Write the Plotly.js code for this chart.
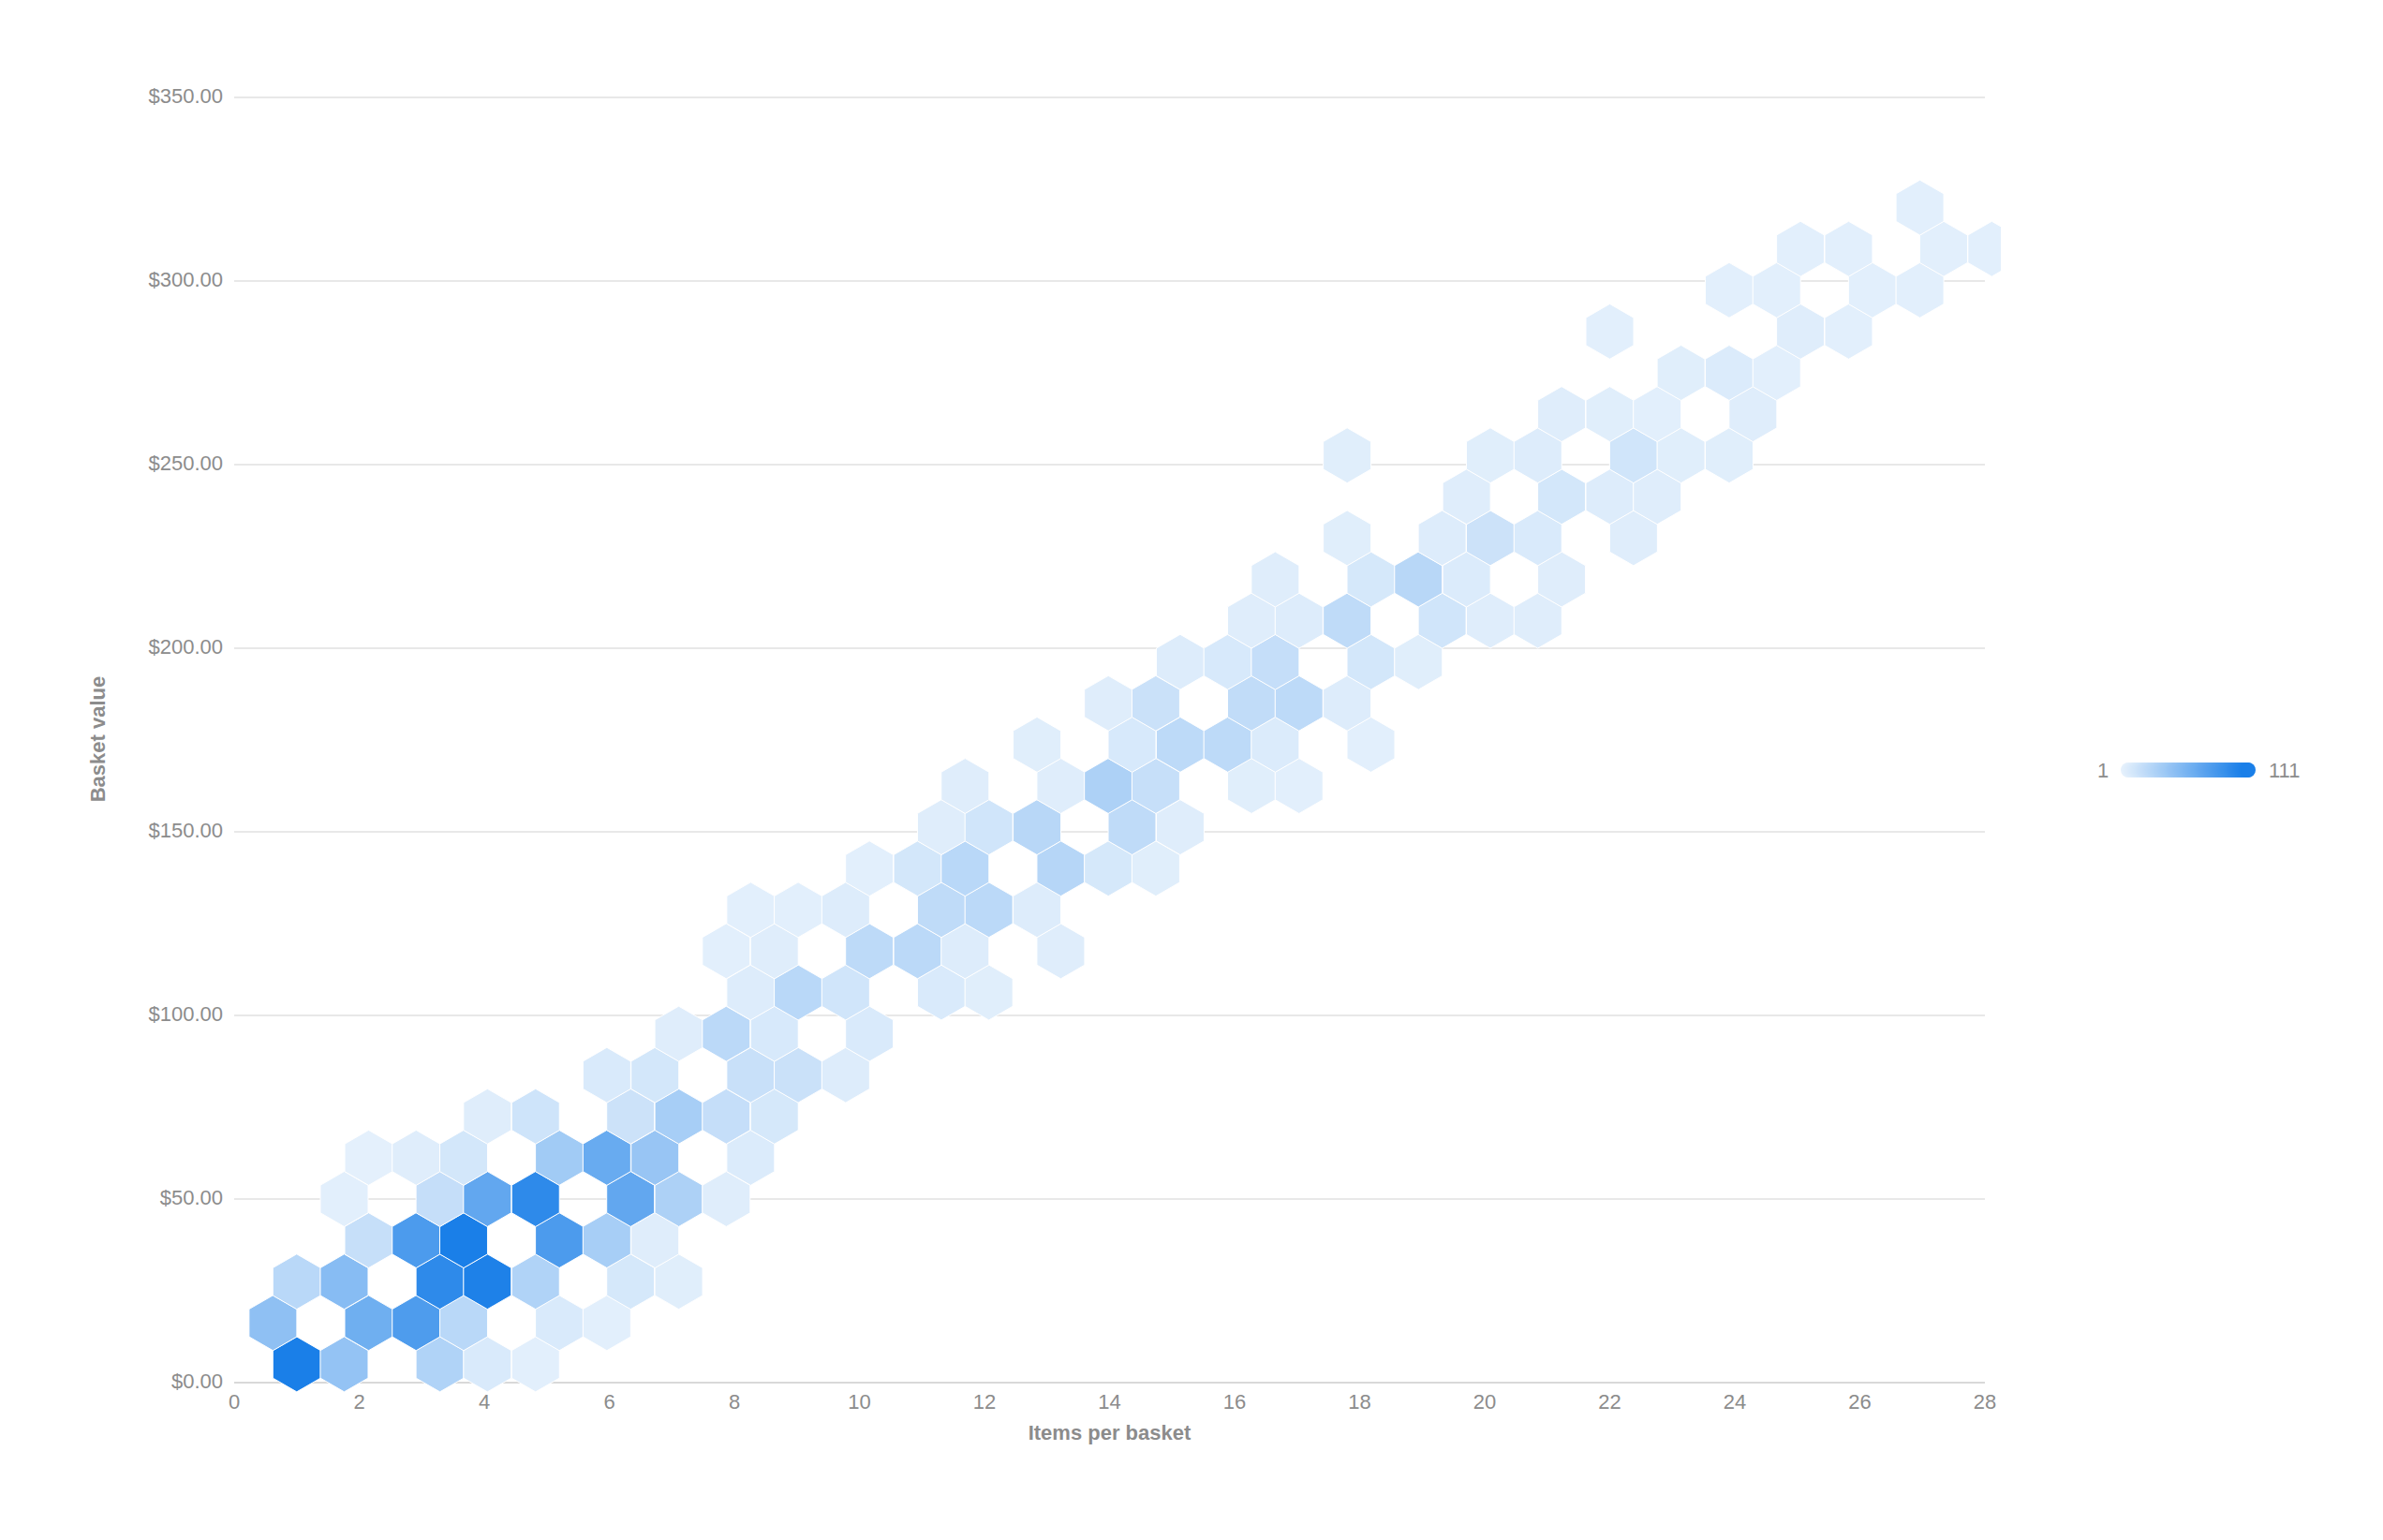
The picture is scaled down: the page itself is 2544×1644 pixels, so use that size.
<!DOCTYPE html>
<html><head><meta charset="utf-8">
<script src="https://cdn.plot.ly/plotly-3.0.1.min.js"></script>
<style>html,body{margin:0;padding:0;background:#fff}</style></head>
<body><div id="chart" style="width:2544px;height:1644px"></div>
<script>
const hexItems=[
1.00,1.76,3.29,4.05,4.82,
0.62,2.15,2.91,3.67,5.20,5.96,
1.00,1.76,3.29,4.05,4.82,6.34,7.11,
2.15,2.91,3.67,5.20,5.96,6.73,
1.76,3.29,4.05,4.82,6.34,7.11,7.87,
2.15,2.91,3.67,5.20,5.96,6.73,8.26,
4.05,4.82,6.34,7.11,7.87,8.64,
5.96,6.73,8.26,9.02,9.78,
7.11,7.87,8.64,10.16,
8.26,9.02,9.78,11.31,12.07,
7.87,8.64,10.16,10.93,11.69,13.22,
8.26,9.02,9.78,11.31,12.07,12.84,
10.16,10.93,11.69,13.22,13.98,14.74,
11.31,12.07,12.84,14.36,15.13,
11.69,13.22,13.98,14.74,16.27,17.03,
12.84,14.36,15.13,15.89,16.65,18.18,
13.98,14.74,16.27,17.03,17.80,
15.13,15.89,16.65,18.18,18.94,
16.27,17.03,17.80,19.32,20.09,20.85,
16.65,18.18,18.94,19.71,21.23,
17.80,19.32,20.09,20.85,22.38,
19.71,21.23,22.00,22.76,
17.80,20.09,20.85,22.38,23.14,23.91,
21.23,22.00,22.76,24.29,
23.14,23.91,24.67,
22.00,25.05,25.82,
23.91,24.67,26.20,26.96,
25.05,25.82,27.34,28.11,
26.96];
const hexValue=[
5,5,5,5,5,
16.25,16.25,16.25,16.25,16.25,16.25,
27.5,27.5,27.5,27.5,27.5,27.5,27.5,
38.75,38.75,38.75,38.75,38.75,38.75,
50,50,50,50,50,50,50,
61.25,61.25,61.25,61.25,61.25,61.25,61.25,
72.5,72.5,72.5,72.5,72.5,72.5,
83.75,83.75,83.75,83.75,83.75,
95,95,95,95,
106.25,106.25,106.25,106.25,106.25,
117.5,117.5,117.5,117.5,117.5,117.5,
128.75,128.75,128.75,128.75,128.75,128.75,
140,140,140,140,140,140,
151.25,151.25,151.25,151.25,151.25,
162.5,162.5,162.5,162.5,162.5,162.5,
173.75,173.75,173.75,173.75,173.75,173.75,
185,185,185,185,185,
196.25,196.25,196.25,196.25,196.25,
207.5,207.5,207.5,207.5,207.5,207.5,
218.75,218.75,218.75,218.75,218.75,
230,230,230,230,230,
241.25,241.25,241.25,241.25,
252.5,252.5,252.5,252.5,252.5,252.5,
263.75,263.75,263.75,263.75,
275,275,275,
286.25,286.25,286.25,
297.5,297.5,297.5,297.5,
308.75,308.75,308.75,308.75,
320];
const hexCount=[
111,45,30,8,3,
48,65,83,25,8,3,
25,52,100,109,30,10,4,
18,84,111,84,35,5,
3,19,72,100,72,32,5,
2,5,11,38,69,43,7,
5,14,15,35,19,10,
8,11,17,16,6,
5,24,9,8,
6,25,13,8,4,
3,5,23,24,6,5,
3,3,6,22,24,6,
3,11,25,27,10,4,
5,13,26,22,5,
5,5,32,18,4,3,
4,9,23,23,7,3,
5,16,21,23,6,
6,9,19,11,4,
5,6,22,13,5,5,
5,10,26,7,5,
4,6,15,8,5,
5,11,6,5,
4,4,6,13,4,4,
5,4,3,5,
4,7,3,
3,5,3,
3,3,3,3,
3,3,3,3,
3];
const yTicks=[0,50,100,150,200,250,300,350];
const yTickText=['$0.00','$50.00','$100.00','$150.00','$200.00','$250.00','$300.00','$350.00'];
const xTicks=[0,2,4,6,8,10,12,14,16,18,20,22,24,26,28];
const legendRange=[1,111];
const legendSteps=Array.from({length:111},(_,i)=>i+1);
const scale=[[0,'#E6F1FC'],[1,'#1A7FE8']];
const W=2544,H=1644,G='#8C8C8C',F='"Liberation Sans",Arial,sans-serif';
const px=(a)=>a/W, py=(a)=>(H-a)/H;
const traces=[
 {type:'scatter',mode:'markers',xaxis:'x',yaxis:'y',x:[null],y:[null],hoverinfo:'skip',marker:{opacity:0}},
 {type:'scatter',mode:'markers',xaxis:'x2',yaxis:'y2',x:hexItems,y:hexValue,hoverinfo:'skip',
  marker:{symbol:'hexagon',size:58.9,color:hexCount,cmin:1,cmax:111,colorscale:scale,showscale:false,opacity:1,
   line:{color:'#ffffff',width:1}}},
 {type:'scatter',mode:'markers',xaxis:'x3',yaxis:'y3',x:legendSteps,y:legendSteps.map(()=>0),cliponaxis:false,hoverinfo:'skip',
  marker:{symbol:'circle',size:16,color:legendSteps,cmin:1,cmax:111,colorscale:scale,showscale:false,line:{width:0}}}
];
const layout={
 width:W,height:H,margin:{l:0,r:0,t:0,b:0},paper_bgcolor:'#fff',plot_bgcolor:'rgba(0,0,0,0)',showlegend:false,
 font:{family:F,size:22,color:G},
 xaxis:{domain:[px(250),px(2119)],range:[0,28],tickmode:'array',tickvals:xTicks,showgrid:false,zeroline:false,showline:false,ticks:'',
  ticklabelstandoff:5,tickfont:{family:F,size:22,color:G},anchor:'y',
  title:{text:'<b>Items per basket</b>',standoff:13,font:{family:F,size:22,color:G}}},
 yaxis:{domain:[py(1476),py(1476-350.5*3.92)],range:[0,350.5],tickmode:'array',tickvals:yTicks,ticktext:yTickText,showgrid:true,gridcolor:'#E8E8E8',gridwidth:2,
  zeroline:true,zerolinecolor:'#D9D9D9',zerolinewidth:2,showline:false,ticks:'',ticklabelstandoff:11,ticklabelshift:-2,tickfont:{family:F,size:22,color:G},anchor:'x',
  title:{text:'<b>Basket value</b>',standoff:39,font:{family:F,size:22,color:G}}},
 xaxis2:{domain:[px(250),px(2136)],range:[0,(2136-250)/66.75],visible:false,anchor:'y2',fixedrange:true},
 yaxis2:{domain:[py(1500),py(104)],range:[-24/3.92,350],visible:false,anchor:'x2',fixedrange:true},
 xaxis3:{domain:[px(2272),px(2400)],range:legendRange,visible:false,anchor:'y3',fixedrange:true},
 yaxis3:{domain:[py(832),py(812)],range:[-1,1],visible:false,anchor:'x3',fixedrange:true},
 annotations:[
  {xref:'paper',yref:'paper',x:px(2253),y:py(822),text:'1',showarrow:false,xanchor:'right',yanchor:'middle',font:{family:F,size:22,color:G}},
  {xref:'paper',yref:'paper',x:px(2420),y:py(822),text:'111',showarrow:false,xanchor:'left',yanchor:'middle',font:{family:F,size:22,color:G}}
 ]
};
Plotly.newPlot('chart',traces,layout,{displayModeBar:false,staticPlot:true});
</script></body></html>
